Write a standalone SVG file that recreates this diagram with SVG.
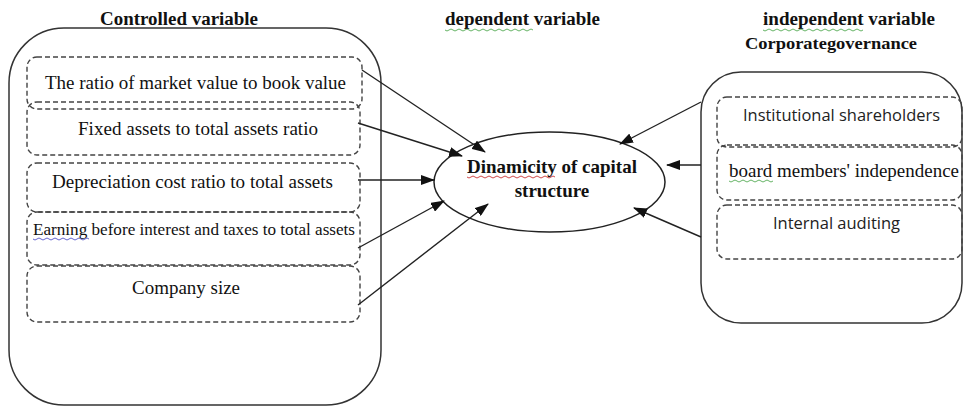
<svg xmlns="http://www.w3.org/2000/svg" width="963" height="407" viewBox="0 0 963 407">
<style>
.cont{fill:none;stroke:#333;stroke-width:1.5}
.dash{fill:none;stroke:#444;stroke-width:1.4;stroke-dasharray:5 3}
.ser{font-family:"Liberation Serif","Times New Roman",serif;fill:#111}
.san{font-family:"Open Sans","Liberation Sans",sans-serif;fill:#222}
.title{font-family:"Liberation Serif","Times New Roman",serif;font-weight:bold;fill:#111}
.conn{stroke:#222;stroke-width:1.4;fill:none}
.sq{fill:none;stroke-width:0.9}
</style>
<defs>
<marker id="ah" viewBox="0 0 14 10" refX="13" refY="5" markerWidth="14" markerHeight="10" markerUnits="userSpaceOnUse" orient="auto">
<path d="M0,0 L14,5 L0,10 Z" fill="#111"/>
</marker>
</defs>
<rect width="963" height="407" fill="#fff"/>

<g id="titles">
<text class="title" x="100" y="25" font-size="18.5" textLength="158" lengthAdjust="spacingAndGlyphs">Controlled variable</text>
<text class="title" x="445" y="25" font-size="18.5" textLength="155" lengthAdjust="spacingAndGlyphs">dependent variable</text>
<text class="title" x="763" y="25" font-size="18.5" textLength="172" lengthAdjust="spacingAndGlyphs">independent variable</text>
<text class="title" x="745" y="49" font-size="16" textLength="172" lengthAdjust="spacingAndGlyphs">Corporategovernance</text>
</g>

<g id="controlled-group">
<rect class="cont" x="9" y="28" width="372" height="377" rx="55" ry="55"/>
</g>

<g id="node-mv-bv">
<rect class="dash" x="27" y="57" width="335" height="52" rx="10"/>
<text class="ser" x="45" y="89" font-size="18.5" textLength="301" lengthAdjust="spacingAndGlyphs">The ratio of market value to book value</text>
</g>
<g id="node-fixed-assets">
<rect class="dash" x="27" y="102" width="333" height="53" rx="10"/>
<text class="ser" x="78" y="135" font-size="18.5" textLength="240" lengthAdjust="spacingAndGlyphs">Fixed assets to total assets ratio</text>
</g>
<g id="node-depreciation">
<rect class="dash" x="27" y="163" width="333" height="49" rx="10"/>
<text class="ser" x="52" y="188" font-size="18.5" textLength="281" lengthAdjust="spacingAndGlyphs">Depreciation cost ratio to total assets</text>
</g>
<g id="node-ebit">
<rect class="dash" x="27" y="212" width="333" height="53" rx="10"/>
<text class="ser" x="33" y="235" font-size="16" textLength="322" lengthAdjust="spacingAndGlyphs">Earning before interest and taxes to total assets</text>
</g>
<g id="node-size">
<rect class="dash" x="27" y="266" width="333" height="56" rx="10"/>
<text class="ser" x="132" y="294" font-size="18.5" textLength="108" lengthAdjust="spacingAndGlyphs">Company size</text>
</g>

<g id="node-dynamicity">
<ellipse cx="549.5" cy="182" rx="115.5" ry="50" fill="#fff" stroke="#222" stroke-width="1.5"/>
<text class="title" x="467" y="173" font-size="19" textLength="170" lengthAdjust="spacingAndGlyphs">Dinamicity of capital</text>
<text class="title" x="552" y="197" font-size="19" text-anchor="middle">structure</text>
</g>

<g id="governance-group">
<rect class="cont" x="701" y="72" width="261" height="251" rx="40" ry="40"/>
</g>
<g id="node-institutional">
<rect class="dash" x="717" y="97" width="245" height="50" rx="10"/>
<text class="san" x="743" y="121" font-size="16" textLength="197" lengthAdjust="spacingAndGlyphs">Institutional shareholders</text>
</g>
<g id="node-board">
<rect class="dash" x="717" y="145" width="245" height="55" rx="10"/>
<text class="ser" x="729" y="177" font-size="18.5" textLength="230" lengthAdjust="spacingAndGlyphs">board members'  independence</text>
</g>
<g id="node-audit">
<rect class="dash" x="717" y="205" width="245" height="54" rx="10"/>
<text class="san" x="773" y="229" font-size="16" textLength="127" lengthAdjust="spacingAndGlyphs">Internal auditing</text>
</g>

<g id="spellmarks">
<path class="sq" stroke="#5a5" d="M445,30 q2,2 4,0 t4,0 t4,0 t4,0 t4,0 t4,0 t4,0 t4,0 t4,0 t4,0 t4,0 t4,0 t4,0 t4,0 t4,0 t4,0 t4,0 t4,0 t4,0 t4,0 t4,0 t4,0"/>
<path class="sq" stroke="#5a5" d="M763,30 q2,2 4,0 t4,0 t4,0 t4,0 t4,0 t4,0 t4,0 t4,0 t4,0 t4,0 t4,0 t4,0 t4,0 t4,0 t4,0 t4,0 t4,0 t4,0 t4,0 t4,0 t4,0 t4,0 t4,0 t4,0 t4,0"/>
<path class="sq" stroke="#c33" d="M467,177 q2,2 4,0 t4,0 t4,0 t4,0 t4,0 t4,0 t4,0 t4,0 t4,0 t4,0 t4,0 t4,0 t4,0 t4,0 t4,0 t4,0 t4,0 t4,0 t4,0 t4,0 t4,0 t4,0"/>
<path class="sq" stroke="#55c" d="M33,239 q2,2 4,0 t4,0 t4,0 t4,0 t4,0 t4,0 t4,0 t4,0 t4,0 t4,0 t4,0 t4,0 t4,0 t4,0"/>
<path class="sq" stroke="#5a5" d="M729,181 q2,2 4,0 t4,0 t4,0 t4,0 t4,0 t4,0 t4,0 t4,0 t4,0 t4,0 t4,0"/>
</g>

<g id="connectors">
<line class="conn" x1="362" y1="70" x2="485" y2="152" marker-end="url(#ah)"/>
<line class="conn" x1="358" y1="123" x2="462" y2="156" marker-end="url(#ah)"/>
<line class="conn" x1="358" y1="180" x2="434" y2="180" marker-end="url(#ah)"/>
<line class="conn" x1="358" y1="248" x2="444" y2="201" marker-end="url(#ah)"/>
<line class="conn" x1="358" y1="305" x2="488" y2="204" marker-end="url(#ah)"/>
<line class="conn" x1="701" y1="102" x2="620" y2="144" marker-end="url(#ah)"/>
<line class="conn" x1="701" y1="165" x2="667" y2="165" marker-end="url(#ah)"/>
<line class="conn" x1="701" y1="237" x2="634" y2="208" marker-end="url(#ah)"/>
</g>
</svg>
